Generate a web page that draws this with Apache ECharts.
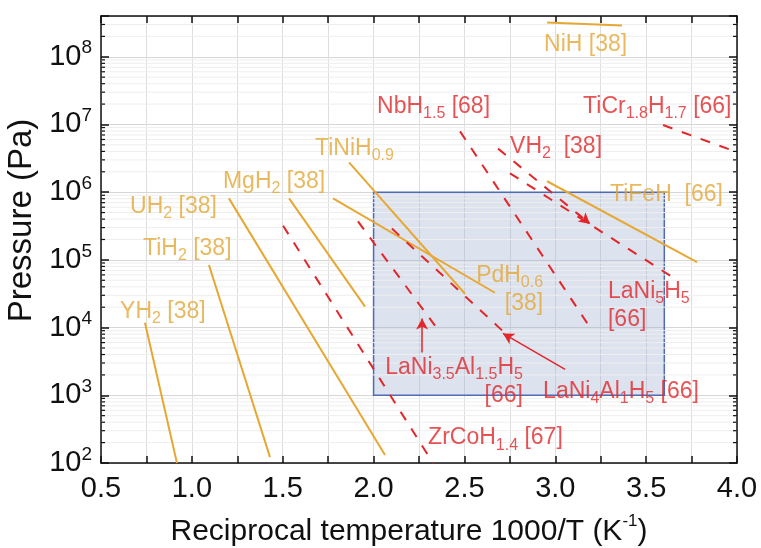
<!DOCTYPE html>
<html><head><meta charset="utf-8">
<script src="https://cdn.jsdelivr.net/npm/echarts@6/dist/echarts.min.js"></script>
<style>html,body{margin:0;padding:0;background:#fff}#c{width:761px;height:548px}</style>
</head><body><div id="c"></div>
<script>
// ---- data (x: 1000/T in 1/K, y: pressure in Pa) ----
const YH2 = [[0.742, 1.18e4], [0.918, 100]];
const TiH2 = [[1.094, 8.4e4], [1.43, 122]];
const UH2 = [[1.204, 8.1e5], [2.063, 131]];
const MgH2 = [[1.535, 8.1e5], [1.953, 2.04e4]];
const TiNiH09 = [[1.865, 2.76e6], [2.503, 3.16e4]];
const PdH06 = [[1.777, 8.1e5], [2.668, 3.27e4]];
const TiFeH = [[2.955, 1.45e6], [3.78, 9.3e4]];
const NiH = [[2.955, 3.2e8], [3.367, 2.9e8]];
const ZrCoH14 = [[1.502, 3.2e5], [2.327, 100]];
const LaNi35Al15H5 = [[1.914, 3.7e5], [2.338, 1.07e4]];
const LaNi4Al1H5 = [[2.101, 2.9e5], [2.707, 9.1e3]];
const NbH15 = [[2.476, 7.9e6], [3.202, 9.1e3]];
const VH2 = [[2.685, 4.4e6], [3.191, 3.4e5]];
const LaNi5H5 = [[2.751, 1.9e6], [3.648, 5.5e4]];
const TiCr18H17 = [[3.593, 9.8e6], [4.0, 3.9e6]];
const boxX = [2.0, 3.6];
const boxY = [1e3, 1e6];
const xRange = [0.5, 4.0];
const yRange = [100, 4e8];

// annotations: text, anchor (data coords), alignment, colour group
const labelText = ['NiH [38]', 'NbH{s|1.5} [68]', 'TiCr{s|1.8}H{s|1.7} [66]', 'VH{s|2}  [38]', 'TiNiH{s|0.9}',
  'MgH{s|2} [38]', 'UH{s|2} [38]', 'TiH{s|2} [38]', 'YH{s|2} [38]', 'TiFeH  [66]', 'PdH{s|0.6}\n[38]',
  'LaNi{s|5}H{s|5}\n[66]', 'LaNi{s|3.5}Al{s|1.5}H{s|5}\n[66]', 'LaNi{s|4}Al{s|1}H{s|5} [66]', 'ZrCoH{s|1.4} [67]'];
const labelAt = [[2.938, 1.5e8], [2.019, 1.84e7], [3.153, 1.84e7], [2.751, 4.74e6], [1.678, 4.44e6],
  [1.171, 1.45e6], [0.66, 6.2e5], [0.731, 1.45e5], [0.605, 1.72e4], [3.301, 9.3e5], [2.933, 3.6e4],
  [3.290, 2.1e4], [2.822, 1.58e3], [2.933, 1.15e3], [2.30, 233]];
const labelSide = ['left','left','left','left','left','left','left','left','left','left','right','left','right','left','left'];
const labelGroup = ['g','r','r','r','g','g','g','g','g','g','g','r','r','r','r'];
const arrows = [[[2.267, 4.3e3], [2.267, 1.36e4]], [[3.054, 2.41e3], [2.712, 8.2e3]]];
const vhArrow = [[3.12, 4.9e5], [3.191, 3.4e5]];

// ---- styling ----
const GOLD = '#E6A833', RED = '#E2262A', GOLD_T = '#E2A736', RED_T = '#E0282A';
const FONT = '"Liberation Sans", Arial, Helvetica, sans-serif';
const INK = '#111';

const yMinor = [];
for (let e = 2; e <= 8; e++) for (let m = 2; m <= 9; m++) { const v = m * Math.pow(10, e); if (v < yRange[1]) yMinor.push(v); }

function isDecade(v) { const l = Math.log10(v); return Math.abs(l - Math.round(l)) < 1e-6; }

function lineSeries(data, color, dashed) {
  return { type: 'line', data: data, symbol: 'none', z: 4, silent: true, animation: false,
    lineStyle: { color: color, width: 2, type: dashed ? [10, 10] : 'solid' } };
}

const chart = echarts.init(document.getElementById('c'), null, { renderer: 'canvas' });
const option = {
  animation: false,
  textStyle: { fontFamily: FONT },
  grid: { left: 101, right: 24, top: 16, bottom: 85, outerBoundsMode: 'none', containLabel: false },
  xAxis: [{
    type: 'value', min: xRange[0], max: xRange[1], interval: 0.25, position: 'bottom',
    axisLine: { show: true, onZero: false, lineStyle: { color: INK, width: 1.5 } },
    axisTick: { show: true, inside: true, length: 7, lineStyle: { color: INK, width: 1.5 } },
    splitLine: { show: true, lineStyle: { color: '#dedede', width: 1 } },
    axisLabel: { margin: 11, fontSize: 29, color: INK, fontFamily: FONT,
      formatter: v => (Math.abs(v * 2 - Math.round(v * 2)) < 1e-9 ? v.toFixed(1) : '') },
    name: 'Reciprocal temperature 1000/T (K{p|-1})', nameLocation: 'middle', nameGap: 50,
    nameTextStyle: { fontSize: 30, color: INK, fontFamily: FONT, padding: [0, 20, 0, 0],
      rich: { p: { fontSize: 17, color: INK, fontFamily: FONT, padding: [0, 0, 20, 0] } } }
  }, {
    type: 'value', min: xRange[0], max: xRange[1], interval: 0.25, position: 'top',
    axisLine: { show: true, onZero: false, lineStyle: { color: INK, width: 1.5 } },
    axisTick: { show: true, inside: true, length: 7, lineStyle: { color: INK, width: 1.5 } },
    splitLine: { show: false }, axisLabel: { show: false }
  }],
  yAxis: [{
    type: 'log', min: yRange[0], max: yRange[1], position: 'left',
    axisLine: { show: true, onZero: false, lineStyle: { color: INK, width: 1.5 } },
    axisTick: { show: true, inside: true, length: 8, lineStyle: { color: INK, width: 1.5 } },
    splitLine: { show: true, lineStyle: { color: '#d6d6d6', width: 1 } },
    axisLabel: { margin: 9, fontSize: 29, color: INK, fontFamily: FONT,
      formatter: v => (isDecade(v) ? '10{p|' + Math.round(Math.log10(v)) + '}' : ''),
      rich: { p: { fontSize: 19, color: INK, fontFamily: FONT, padding: [0, 0, 17, 0] } } },
    name: 'Pressure (Pa)', nameLocation: 'middle', nameGap: 58,
    nameTextStyle: { fontSize: 33, color: INK, fontFamily: FONT, padding: [0, 0, 0, 38] }
  }, {
    type: 'log', min: yRange[0], max: yRange[1], position: 'right',
    axisLine: { show: true, onZero: false, lineStyle: { color: INK, width: 1.5 } },
    axisTick: { show: true, inside: true, length: 8, lineStyle: { color: INK, width: 1.5 } },
    splitLine: { show: false }, axisLabel: { show: false }
  }],
  series: [
    { type: 'custom', z: 1, silent: true, animation: false,
      data: yMinor.map(v => [xRange[0], v]),
      renderItem: (params, api) => {
        const v = api.value(1);
        const a = api.coord([xRange[0], v]);
        const b = api.coord([xRange[1], v]);
        return { type: 'group', children: [
          { type: 'line', shape: { x1: a[0], y1: a[1], x2: b[0], y2: b[1] }, style: { stroke: '#eeeeee', lineWidth: 1 } },
          { type: 'line', shape: { x1: a[0], y1: a[1], x2: a[0] + 4, y2: a[1] }, style: { stroke: INK, lineWidth: 1.2 } },
          { type: 'line', shape: { x1: b[0] - 4, y1: b[1], x2: b[0], y2: b[1] }, style: { stroke: INK, lineWidth: 1.2 } }
        ] };
      } },
    { type: 'line', data: [], z: 2, silent: true,
      markArea: { silent: true, animation: false,
        itemStyle: { color: 'rgba(155,170,208,0.34)', borderColor: '#4F6BB5', borderWidth: 1.5 },
        data: [[{ coord: [boxX[0], boxY[0]] }, { coord: [boxX[1], boxY[1]] }]] } },
    lineSeries(YH2, GOLD, false),
    lineSeries(TiH2, GOLD, false),
    lineSeries(UH2, GOLD, false),
    lineSeries(MgH2, GOLD, false),
    lineSeries(TiNiH09, GOLD, false),
    lineSeries(PdH06, GOLD, false),
    lineSeries(TiFeH, GOLD, false),
    lineSeries(NiH, GOLD, false),
    lineSeries(ZrCoH14, RED, true),
    lineSeries(LaNi35Al15H5, RED, true),
    lineSeries(LaNi4Al1H5, RED, true),
    lineSeries(NbH15, RED, true),
    lineSeries(VH2, RED, true),
    lineSeries(LaNi5H5, RED, true),
    lineSeries(TiCr18H17, RED, true),
    { type: 'line', data: [], z: 5, silent: true,
      markLine: { silent: true, animation: false, symbol: ['none', 'arrow'], symbolSize: [9, 11],
        label: { show: false }, lineStyle: { color: RED, width: 1.5, type: 'solid' },
        data: arrows.map(a => [{ coord: a[0] }, { coord: a[1] }]).concat([
          [{ coord: vhArrow[0], lineStyle: { type: [6, 4], width: 2 } }, { coord: vhArrow[1] }]]) } },
    { type: 'scatter', z: 6, silent: true, symbolSize: 1, animation: false,
      itemStyle: { color: 'rgba(0,0,0,0)' },
      data: labelText.map((t, i) => {
        const c = labelGroup[i] === 'g' ? GOLD_T : RED_T;
        return { value: labelAt[i], label: { show: true, position: 'inside', align: labelSide[i], verticalAlign: 'middle',
          formatter: t, color: c, fontSize: 23, lineHeight: 28, fontFamily: FONT,
          rich: { s: { fontSize: 16, lineHeight: 16, color: c, fontFamily: FONT, padding: [14, 0, 0, 0] } } } };
      }) }
  ]
};
chart.setOption(option);
</script>
</body></html>
